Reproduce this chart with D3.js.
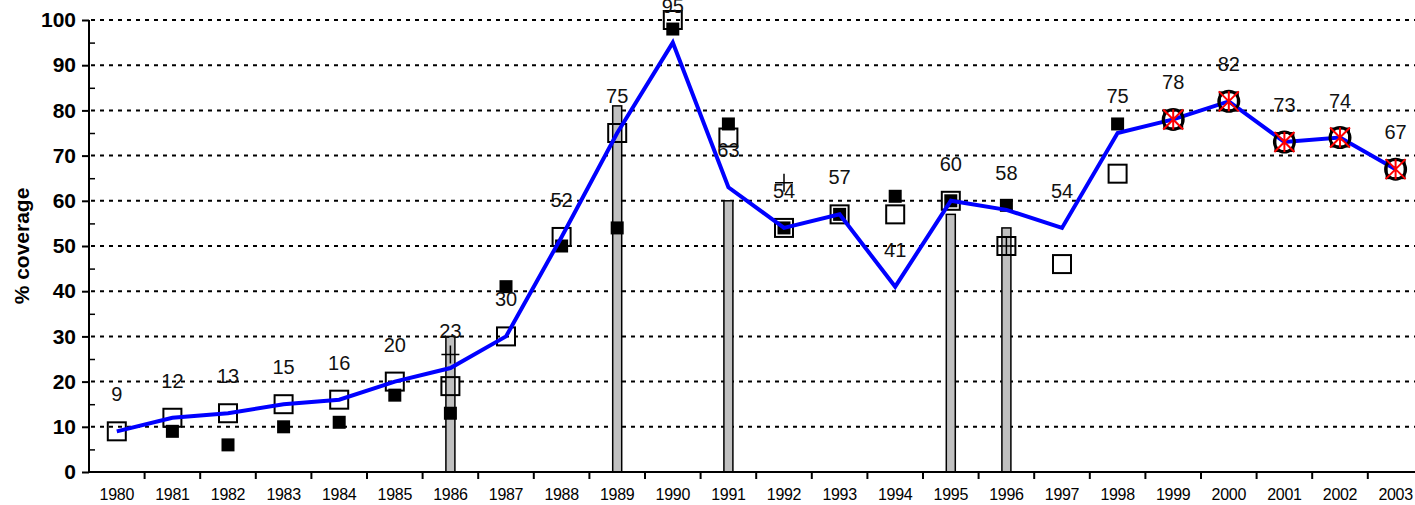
<!DOCTYPE html>
<html lang="en">
  <head>
    <meta charset="UTF-8" />
    <title>% coverage</title>
    <script src="https://d3js.org/d3.v7.min.js"></script>
    <style>
      body { margin: 0; background: #fff; }
      svg { display: block; font-family: 'Liberation Sans', Arial, sans-serif; }
    </style>
  </head>
  <body>
    <svg width="1415" height="505"></svg>
    <script>
      // values
      const years = ['1980','1981','1982','1983','1984','1985','1986','1987','1988','1989','1990','1991',
        '1992','1993','1994','1995','1996','1997','1998','1999','2000','2001','2002','2003'];
      const lineValues = [9, 12, 13, 15, 16, 20, 23, 30, 52, 75, 95, 63, 54, 57, 41, 60, 58, 54, 75, 78, 82, 73, 74, 67];
      const openSquares = [9, 12, 13, 15, 16, 20, 19, 30, 52, 75, 100, 74, 54, 57, 57, 60, 50, 46, 66, 78, 82, 73, 74, 67];
      const filledSquares = [null, 9, 6, 10, 11, 17, 13, 41, 50, 54, 98, 77, 54, 57, 61, 60, 59, null, 77, null, null, null, null, null];
      const barValues = [null, null, null, null, null, null, 30, null, null, 81, null, 60, null, null, null, 57, 54, null, null, null, null, null, null, null];
      const plusValues = [null, null, null, null, null, null, 26, null, null, null, null, null, 64, null, null, null, 50, null, null, null, null, null, null, null];
      const circleValues = [null, null, null, null, null, null, null, null, null, null, null, null, null, null, null, null, null, null, null, 78, 82, 73, 74, 67];
      const yTicks = [0, 10, 20, 30, 40, 50, 60, 70, 80, 90, 100];

      const svg = d3.select('svg');
      const mLeft = 89, mRight = 1423.4, mTop = 20, mBottom = 472;

      const x = d3.scaleBand().domain(years).range([mLeft, mRight]).padding(0);
      const y = d3.scaleLinear().domain([0, 100]).range([mBottom, mTop]);
      const cx = (d) => x(d) + x.bandwidth() / 2;

      const pts = (vals) => years.map((yr, i) => ({ yr, v: vals[i] })).filter((d) => d.v != null);

      // gridlines
      svg.append('g')
        .selectAll('line')
        .data(yTicks.filter((t) => t > 0))
        .join('line')
        .attr('x1', mLeft + 2)
        .attr('x2', mRight)
        .attr('y1', (d) => y(d))
        .attr('y2', (d) => y(d))
        .attr('stroke', '#000')
        .attr('stroke-width', 2)
        .attr('stroke-dasharray', '4,5');

      // bars
      const bw = 9;
      svg.append('g')
        .selectAll('rect')
        .data(pts(barValues))
        .join('rect')
        .attr('x', (d) => cx(d.yr) - bw / 2)
        .attr('y', (d) => y(d.v))
        .attr('width', bw)
        .attr('height', (d) => y(0) - y(d.v))
        .attr('fill', '#c0c0c0')
        .attr('stroke', '#000')
        .attr('stroke-width', 1.5);

      // open squares
      const os = 18;
      svg.append('g')
        .selectAll('rect')
        .data(pts(openSquares))
        .join('rect')
        .attr('x', (d) => cx(d.yr) - os / 2)
        .attr('y', (d) => y(d.v) - os / 2)
        .attr('width', os)
        .attr('height', os)
        .attr('fill', 'none')
        .attr('stroke', '#000')
        .attr('stroke-width', 2);

      // filled squares
      const fs = 13;
      svg.append('g')
        .selectAll('rect')
        .data(pts(filledSquares))
        .join('rect')
        .attr('x', (d) => cx(d.yr) - fs / 2)
        .attr('y', (d) => y(d.v) - fs / 2)
        .attr('width', fs)
        .attr('height', fs)
        .attr('fill', '#000');

      // blue line
      const line = d3.line().x((d) => cx(d.yr)).y((d) => y(d.v));
      svg.append('path')
        .datum(pts(lineValues))
        .attr('d', line)
        .attr('fill', 'none')
        .attr('stroke', '#0000ff')
        .attr('stroke-width', 4)
        .attr('stroke-linejoin', 'miter');

      // plus markers
      const ps = 9;
      svg.append('g')
        .selectAll('path')
        .data(pts(plusValues))
        .join('path')
        .attr('d', (d) => {
          const px = cx(d.yr), py = y(d.v);
          return `M${px - ps},${py}H${px + ps}M${px},${py - ps}V${py + ps}`;
        })
        .attr('stroke', '#000')
        .attr('stroke-width', 1.5)
        .attr('fill', 'none');

      // circles
      svg.append('g')
        .selectAll('circle')
        .data(pts(circleValues))
        .join('circle')
        .attr('cx', (d) => cx(d.yr))
        .attr('cy', (d) => y(d.v))
        .attr('r', 10)
        .attr('fill', 'none')
        .attr('stroke', '#000')
        .attr('stroke-width', 3);

      // red stars
      const ss = 10;
      svg.append('g')
        .selectAll('path')
        .data(pts(circleValues))
        .join('path')
        .attr('d', (d) => {
          const px = cx(d.yr), py = y(d.v);
          return `M${px - ss},${py - ss}L${px + ss},${py + ss}M${px + ss},${py - ss}L${px - ss},${py + ss}M${px},${py - ss}V${py + ss}`;
        })
        .attr('stroke', '#ff0000')
        .attr('stroke-width', 2)
        .attr('fill', 'none');

      // data labels
      svg.append('g')
        .selectAll('text')
        .data(pts(lineValues))
        .join('text')
        .attr('x', (d) => cx(d.yr))
        .attr('y', (d) => y(d.v) - 30)
        .attr('text-anchor', 'middle')
        .attr('font-size', 20)
        .attr('fill', '#111')
        .text((d) => d.v);

      // y axis
      const yAxis = svg.append('g')
        .attr('transform', `translate(${mLeft},0)`)
        .call(d3.axisLeft(y).tickValues(yTicks).tickSize(7).tickPadding(6));
      yAxis.select('.domain').attr('stroke-width', 2).attr('d', `M0,${mBottom}V${mTop}`);
      yAxis.selectAll('.tick line').attr('stroke-width', 2);
      yAxis.selectAll('.tick text')
        .attr('font-size', 21)
        .attr('font-weight', 'bold')
        .attr('font-family', "'Liberation Sans', Arial, sans-serif")
        .attr('fill', '#000');

      const yMinor = svg.append('g')
        .attr('transform', `translate(${mLeft},0)`)
        .call(d3.axisRight(y).tickValues(d3.range(5, 100, 10)).tickSize(6).tickFormat(''));
      yMinor.select('.domain').remove();
      yMinor.selectAll('.tick line').attr('stroke-width', 1.5);

      // x axis
      const xAxis = svg.append('g')
        .attr('transform', `translate(0,${mBottom})`)
        .call(d3.axisBottom(x).tickSize(0).tickPadding(17));
      xAxis.select('.domain').attr('stroke-width', 2).attr('d', `M${mLeft},0H${mRight}`);
      xAxis.selectAll('.tick text')
        .attr('font-size', 16)
        .attr('letter-spacing', -0.3)
        .attr('font-family', "'Liberation Sans', Arial, sans-serif")
        .attr('fill', '#000');
      xAxis.append('g')
        .selectAll('line')
        .data(years.slice(1))
        .join('line')
        .attr('x1', (d) => x(d))
        .attr('x2', (d) => x(d))
        .attr('y1', 0)
        .attr('y2', 7)
        .attr('stroke', '#000')
        .attr('stroke-width', 2);

      // axis title
      svg.append('text')
        .attr('transform', `translate(29,${(mTop + mBottom) / 2}) rotate(-90)`)
        .attr('text-anchor', 'middle')
        .attr('font-size', 21)
        .attr('font-weight', 'bold')
        .text('% coverage');
    </script>
  </body>
</html>
